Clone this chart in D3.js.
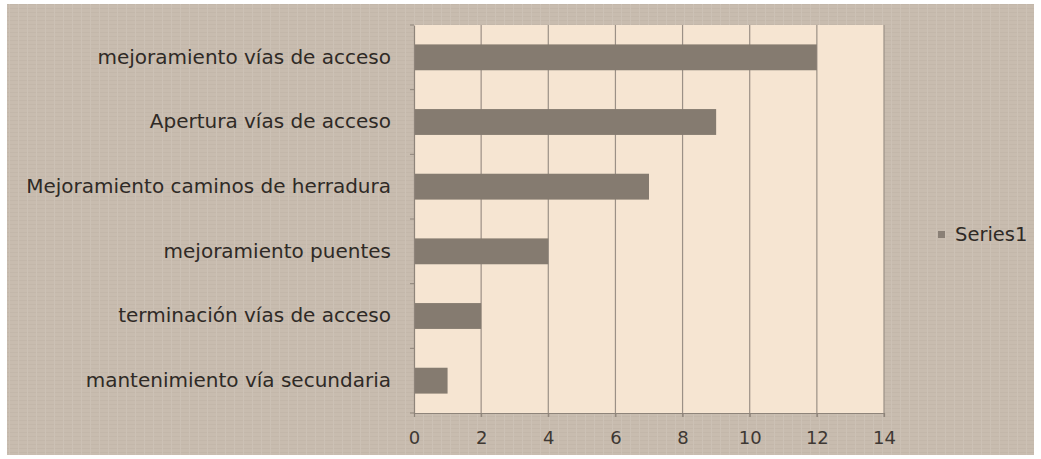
<!DOCTYPE html>
<html>
<head>
<meta charset="utf-8">
<script src="https://cdn.jsdelivr.net/npm/d3@7"></script>
<style>
  body { margin: 0; background: #fff; }
  text { font-family: "DejaVu Sans", sans-serif; }
</style>
</head>
<body>
<svg id="chart" width="1041" height="459"></svg>
<script>
// data
const categories = [
  "mejoramiento vías de acceso",
  "Apertura vías de acceso",
  "Mejoramiento caminos de herradura",
  "mejoramiento puentes",
  "terminación vías de acceso",
  "mantenimiento vía secundaria"
];
const values = [12, 9, 7, 4, 2, 1];
const xTicks = [0, 2, 4, 6, 8, 10, 12, 14];
const seriesName = "Series1";

const plot = {left: 414, right: 884, top: 25, bottom: 413};

const svg = d3.select("#chart");

// textured background (subtle)
const defs = svg.append("defs");
const pat = defs.append("pattern")
  .attr("id", "tex")
  .attr("width", 9).attr("height", 4)
  .attr("patternUnits", "userSpaceOnUse");
pat.append("rect").attr("width", 9).attr("height", 4).attr("fill", "#c8bcaf");
pat.append("line").attr("x1", 0).attr("y1", 0.5).attr("x2", 9).attr("y2", 0.5)
  .attr("stroke", "#c3b7aa").attr("stroke-width", 1);
pat.append("line").attr("x1", 0.5).attr("y1", 0).attr("x2", 0.5).attr("y2", 4)
  .attr("stroke", "#ccc1b5").attr("stroke-width", 1);

svg.append("rect")
  .attr("x", 7).attr("y", 4)
  .attr("width", 1027).attr("height", 451)
  .attr("fill", "url(#tex)");

let x = d3.scaleLinear()
  .domain([0, 14])
  .range([plot.left, plot.right]);

let y = d3.scaleBand()
  .domain(categories)
  .range([plot.top, plot.bottom])
  .paddingInner(0.6)
  .paddingOuter(0.3);

// plot area
svg.append("rect")
  .attr("x", plot.left).attr("y", plot.top)
  .attr("width", plot.right - plot.left)
  .attr("height", plot.bottom - plot.top)
  .attr("fill", "#f6e5d2");

// gridlines
svg.append("g")
  .selectAll("line")
  .data(xTicks.slice(1))
  .enter().append("line")
  .attr("x1", d => x(d)).attr("x2", d => x(d))
  .attr("y1", plot.top).attr("y2", plot.bottom + 4)
  .attr("stroke", "#9b9086")
  .attr("stroke-width", 1.2);

// bars
svg.append("g")
  .selectAll("rect")
  .data(values)
  .enter().append("rect")
  .attr("x", x(0))
  .attr("y", (d, i) => y(categories[i]))
  .attr("width", d => x(d) - x(0))
  .attr("height", y.bandwidth())
  .attr("fill", "#857b70");

// x axis
let xAxis = d3.axisBottom(x)
  .tickValues(xTicks)
  .tickSize(4)
  .tickPadding(14);

let gx = svg.append("g")
  .attr("transform", "translate(0," + plot.bottom + ")")
  .call(xAxis);
gx.select(".domain").attr("stroke", "#8e847a").attr("stroke-width", 1.2);
gx.selectAll(".tick line").attr("stroke", "#8e847a");
gx.selectAll(".tick text")
  .attr("fill", "#3e3833")
  .style("font-size", "18px")
  .style("font-family", "DejaVu Sans, sans-serif");

// y axis
let yAxis = d3.axisLeft(y)
  .tickSize(0)
  .tickPadding(23);

let gy = svg.append("g")
  .attr("transform", "translate(" + plot.left + ",0)")
  .call(yAxis);
gy.select(".domain").attr("stroke", "#8e847a").attr("stroke-width", 1.2);
gy.selectAll(".tick text")
  .attr("fill", "#2f2a26")
  .style("font-size", "20px")
  .style("font-family", "DejaVu Sans, sans-serif");

// small ticks between categories
svg.append("g")
  .selectAll("line")
  .data(d3.range(categories.length + 1))
  .enter().append("line")
  .attr("x1", plot.left - 4).attr("x2", plot.left)
  .attr("y1", i => plot.top + i * (plot.bottom - plot.top) / categories.length)
  .attr("y2", i => plot.top + i * (plot.bottom - plot.top) / categories.length)
  .attr("stroke", "#8e847a");

// legend
let legend = svg.append("g").attr("transform", "translate(938,234)");
legend.append("rect")
  .attr("x", 0).attr("y", -3)
  .attr("width", 7).attr("height", 7)
  .attr("fill", "#8a8076");
legend.append("text")
  .attr("x", 17).attr("y", 0)
  .attr("dy", "0.35em")
  .attr("fill", "#2f2a26")
  .style("font-size", "19.5px")
  .text(seriesName);
</script>
</body>
</html>
